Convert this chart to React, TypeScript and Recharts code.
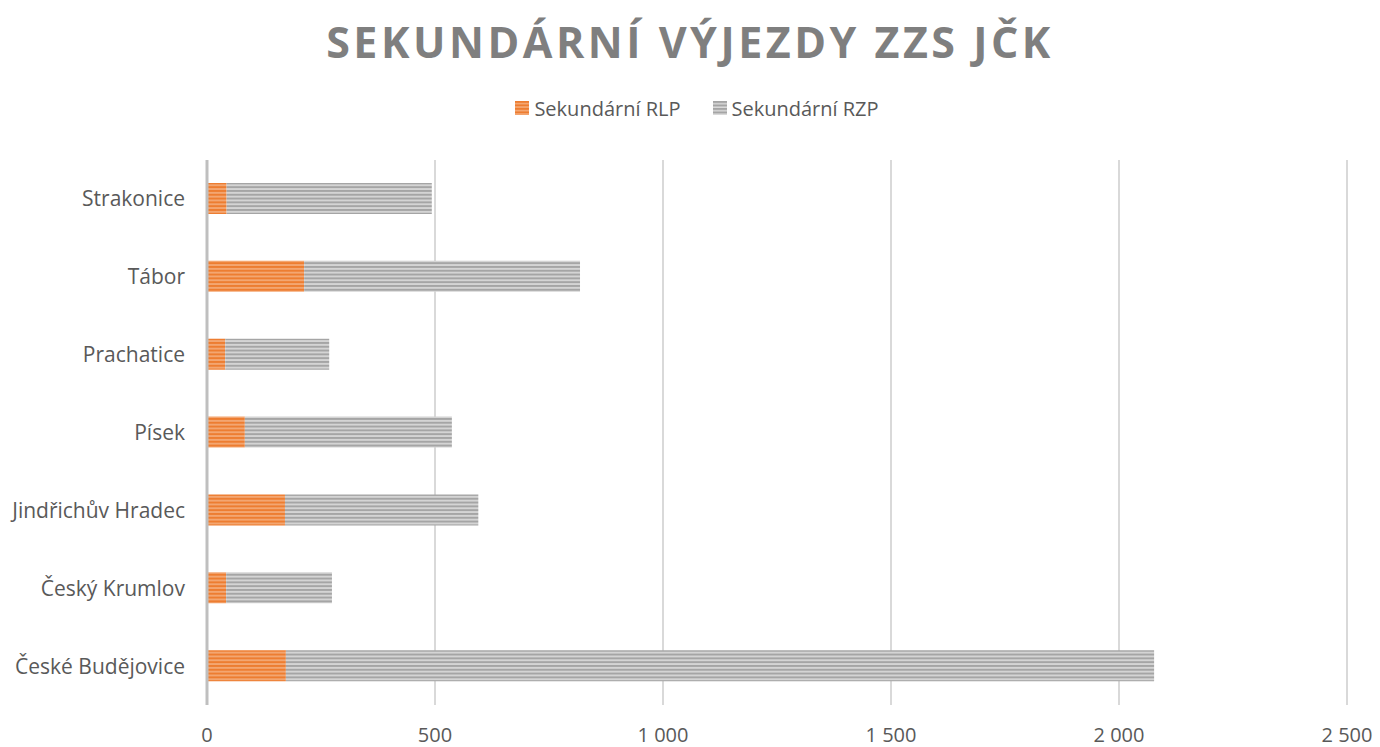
import React from "react";
import { BarChart, Bar, XAxis, YAxis, CartesianGrid, Legend } from "recharts";

const categories = [
  "České Budějovice",
  "Český Krumlov",
  "Jindřichův Hradec",
  "Písek",
  "Prachatice",
  "Tábor",
  "Strakonice",
];
const rlpValues = [173, 42, 171, 83, 40, 213, 43];
const rzpValues = [1904, 232, 424, 454, 228, 605, 450];
const xTicks = [0, 500, 1000, 1500, 2000, 2500];
const seriesNames = ["Sekundární RLP", "Sekundární RZP"];

const data = categories.map((c, i) => ({ name: c, rlp: rlpValues[i], rzp: rzpValues[i] }));

const FONT = "'Open Sans', sans-serif";
const fmt = (v: number) => String(v).replace(/\B(?=(\d{3})+(?!\d))/g, " ");

const LegendContent = () => (
  <div style={{ display: "flex", justifyContent: "center", gap: 32, fontFamily: FONT, fontSize: 20, color: "#595959", height: 28, alignItems: "center", paddingLeft: 14 }}>
    {seriesNames.map((n, i) => (
      <div key={n} style={{ display: "flex", alignItems: "center" }}>
        <svg width={14} height={14} style={{ marginRight: 5 }}>
          <rect width={14} height={14} fill={i === 0 ? "url(#pOrangeL)" : "url(#pGrayL)"} />
        </svg>
        <span>{n}</span>
      </div>
    ))}
  </div>
);

export default function App() {
  return (
    <div style={{ position: "absolute", left: 0, top: 0, width: 1380, height: 747, background: "#fff" }}>
      <svg width={0} height={0} style={{ position: "absolute" }}>
        <defs>
          <pattern id="pOrangeL" width="4" height="3.5" patternUnits="userSpaceOnUse">
            <rect width="4" height="3.5" fill="#ED7D31" />
            <rect y="2" width="4" height="1.2" fill="#F7B98E" />
          </pattern>
          <pattern id="pGrayL" width="4" height="3.5" patternUnits="userSpaceOnUse">
            <rect width="4" height="3.5" fill="#A5A5A5" />
            <rect y="2" width="4" height="1.5" fill="#DADADA" />
          </pattern>
        </defs>
      </svg>
      <div
        style={{
          position: "absolute",
          top: 12,
          left: 0,
          width: 1380,
          textAlign: "center",
          fontFamily: FONT,
          fontWeight: 700,
          fontSize: 43,
          letterSpacing: 3.5,
          color: "#7F7F7F",
        }}
      >
        SEKUNDÁRNÍ VÝJEZDY ZZS JČK
      </div>
      <BarChart
        width={1380}
        height={747}
        layout="vertical"
        data={data}
        margin={{ top: 132, right: 33, bottom: 0, left: 0 }}
        barSize={31}
      >
        <defs>
          <pattern id="pOrange" width="4" height="3.8" patternUnits="userSpaceOnUse">
            <rect width="4" height="3.8" fill="#ED7D31" />
            <rect y="2.2" width="4" height="1.3" fill="#F7B98E" />
          </pattern>
          <pattern id="pGray" width="4" height="3.8" patternUnits="userSpaceOnUse">
            <rect width="4" height="3.8" fill="#A5A5A5" />
            <rect y="2" width="4" height="1.7" fill="#DADADA" />
          </pattern>
        </defs>
        <CartesianGrid horizontal={false} stroke="#D9D9D9" strokeWidth={2} />
        <XAxis
          type="number"
          domain={[0, 2500]}
          ticks={xTicks}
          tickFormatter={fmt}
          axisLine={false}
          tickLine={false}
          tickSize={0}
          tickMargin={23}
          height={42}
          tick={{ fontFamily: FONT, fontSize: 20, fill: "#595959" }}
        />
        <YAxis
          type="category"
          dataKey="name"
          reversed
          width={207}
          axisLine={{ stroke: "#BFBFBF", strokeWidth: 3 }}
          tickLine={false}
          tickSize={0}
          tickMargin={22}
          tick={{ fontFamily: FONT, fontSize: 21, fill: "#595959" }}
        />
        <Legend
          verticalAlign="top"
          content={<LegendContent />}
          wrapperStyle={{ top: 94, left: 0, width: 1380 }}
        />
        <Bar dataKey="rlp" name={seriesNames[0]} stackId="a" fill="url(#pOrange)" isAnimationActive={false} />
        <Bar dataKey="rzp" name={seriesNames[1]} stackId="a" fill="url(#pGray)" isAnimationActive={false} />
      </BarChart>
    </div>
  );
}
